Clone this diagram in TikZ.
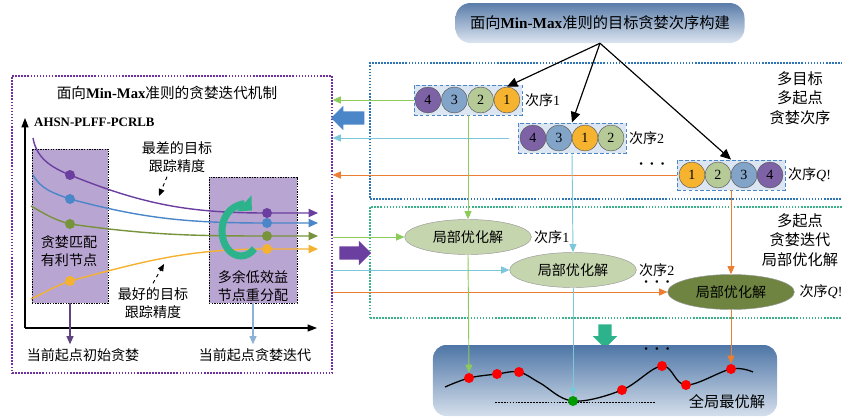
\documentclass[tikz,border=0pt]{standalone}
\usepackage{fontspec}
\setmainfont{Liberation Serif}
\newfontfamily\cjk{Noto Sans CJK SC}
\usetikzlibrary{arrows.meta,shapes.geometric,shapes.arrows,positioning}
\definecolor{mechpurple}{HTML}{7030A0}
\definecolor{ordblue}{HTML}{2E75B6}
\definecolor{itergreen}{HTML}{3CB08A}
\definecolor{cpurple}{HTML}{6B3FA0}
\definecolor{cblue}{HTML}{4A86C8}
\definecolor{cgreen}{HTML}{77933C}
\definecolor{corange}{HTML}{F5B130}
\definecolor{boxlilac}{HTML}{B9A5D2}
\definecolor{numfour}{HTML}{7E62A6}
\definecolor{numthree}{HTML}{82A4C8}
\definecolor{numtwo}{HTML}{B6CA98}
\definecolor{numone}{HTML}{F5B32F}
\definecolor{lgreen}{HTML}{8CCB5A}
\definecolor{lcyan}{HTML}{7CC8DA}
\definecolor{lorange}{HTML}{ED7D31}
\definecolor{ellfill}{HTML}{C5D5AE}
\definecolor{elldark}{HTML}{6E8440}
\definecolor{turncol}{HTML}{2DB38B}
\definecolor{rowfill}{HTML}{DCE6F2}
\definecolor{topdark}{HTML}{5A7DAA}
\definecolor{toplight}{HTML}{DCE5F0}
\definecolor{glodark}{HTML}{4E76A6}
\definecolor{glolight}{HTML}{D5DFEC}
\definecolor{darkdown}{HTML}{5D4480}
\definecolor{lightdown}{HTML}{8EB1D6}
\tikzset{frame/.style={
    rectangle,
    draw=#1,
    dash pattern=on 1.4pt off 1.2pt,
    line width=1pt,
    inner sep=0pt
  },
  txt/.style={font=\cjk\fontsize{12}{15.5}\selectfont, align=center},
  sidetxt/.style={font=\cjk\fontsize{13}{16.5}\selectfont, align=center},
  seq/.style={font=\fontsize{12}{14}\selectfont, inner sep=1pt},
  pbox/.style={rectangle, draw=black, fill=boxlilac, dash pattern=on 1.2pt off 1pt, line width=0.8pt},
  ordbox/.style={rectangle, draw=cblue, fill=rowfill, dash pattern=on 3pt off 2pt,
    line width=0.8pt, minimum width=3.24cm, minimum height=0.9cm},
  ord/.style={circle, draw=gray!70!black, minimum size=0.78cm, inner sep=0pt,
    font=\fontsize{12}{14}\selectfont},
  lopt/.style={ellipse, draw=gray!80, fill=ellfill, minimum width=3.8cm,
    minimum height=1.05cm, inner sep=0pt, font=\cjk\fontsize{12}{14}\selectfont},
  dot/.style={circle, fill=#1, inner sep=0pt, minimum size=0.3cm},
  bigarrow/.style={single arrow, draw=none, fill=#1, inner xsep=0pt, inner ysep=0.19cm,
    single arrow head extend=0.17cm, single arrow head indent=0pt},
  con/.style={line width=0.8pt, -{Triangle[length=7pt,width=6pt]}},
  curve/.style={line width=1.2pt, -{Triangle[length=8pt,width=7pt]}},
  dashdown/.style={dashed, line width=0.8pt, -{Triangle[length=6pt,width=5pt]}},
  dots/.style={font=\small, inner sep=0pt}
}
\begin{document}
\begin{tikzpicture}[x=0.03cm,y=-0.03cm]
  \useasboundingbox (0,0) rectangle (842,417);

  \node[frame=mechpurple, minimum width=9.6cm, minimum height=8.91cm] (mech) at (172,224.5) {};
  \node[frame=ordblue, minimum width=14.28cm, minimum height=4.08cm] (multi) at (608,131) {};
  \node[frame=itergreen, minimum width=14.28cm, minimum height=3.33cm] (iter) at (608,262.5) {};

  \node[rectangle, rounded corners=0.45cm, top color=topdark, bottom color=toplight,
    minimum width=8.67cm, minimum height=1.2cm, font=\cjk\fontsize{13}{15}\selectfont] (build) at (600,23)
    {面向{\rmfamily\bfseries Min-Max}准则的目标贪婪次序构建};

  % left panel
  \node[font=\cjk\fontsize{12.5}{15}\selectfont] (mtitle) at (167,93) {面向{\rmfamily\bfseries Min-Max}准则的贪婪迭代机制};
  \node[font=\rmfamily\bfseries\fontsize{11}{13}\selectfont, anchor=west, inner sep=0pt] (yname) at (34,122) {AHSN-PLFF-PCRLB};
  \coordinate (origin) at (25,328);
  \coordinate (ytip) at (25,118);
  \coordinate (xtip) at (317,328);
  \node[pbox, minimum width=2.28cm, minimum height=4.62cm] (match) at (70,226) {};
  \node[pbox, minimum width=2.64cm, minimum height=3.78cm] (redis) at (253,240) {};
  \node[txt] (matchtxt) at (69,251) {贪婪匹配\\有利节点};
  \node[txt] (redistxt) at (253,286) {多余低效益\\节点重分配};
  \draw[line width=1pt, -{Triangle[length=8pt,width=6pt]}] (origin) -- (ytip);
  \draw[line width=1pt, -{Triangle[length=8pt,width=6pt]}] (origin) -- (xtip);

  \draw[curve, cpurple] (33,138) to[out=-80,in=158] (70,175) to[out=-22,in=180] (267,213) -- (318,213);
  \draw[curve, cblue] (33,175) to[out=-60,in=160] (70,199) to[out=-15,in=180] (267,223) -- (318,223);
  \draw[curve, cgreen] (31,206) to[out=-30,in=165] (70,224) to[out=-8,in=180] (267,236) -- (318,236);
  \draw[curve, corange] (31,299) to[out=25,in=199] (70,281) to[out=15,in=180] (267,249) -- (318,249);
  \node[dot=cpurple] (pa) at (70,175) {};
  \node[dot=cblue] (ba) at (70,199) {};
  \node[dot=cgreen] (ga) at (70,224) {};
  \node[dot=corange] (oa) at (70,281) {};
  \node[dot=cpurple] (pb) at (267,213) {};
  \node[dot=cblue] (bb) at (267,223) {};
  \node[dot=cgreen] (gb) at (267,236) {};
  \node[dot=corange] (ob) at (267,249) {};
  \draw[line width=6pt, turncol, -{Triangle[length=9pt,width=18pt]}]
    (241,231) ++(45:19 and 25) arc[start angle=45, end angle=305, x radius=19, y radius=25];

  \node[txt] (worst) at (177,157) {最差的目标\\跟踪精度};
  \node[txt] (best) at (153,303) {最好的目标\\跟踪精度};
  \coordinate (wtip) at (159,196);
  \coordinate (btip) at (164,264);
  \draw[dashdown] ([xshift=-0.3cm]worst.south) -- (wtip);
  \draw[dashdown] (best.north) -- (btip);

  \node[txt] (init) at (83,355) {当前起点初始贪婪};
  \node[txt] (greedy) at (255,355) {当前起点贪婪迭代};
  \draw[con, darkdown, line width=1pt] (match.south) -- (match.south |- init.north);
  \draw[con, lightdown, line width=1pt] (redis.south) -- (redis.south |- greedy.north);

  % orders
  \node[ordbox] (r1) at (468,100) {};
  \node[ordbox] (r2) at (572,138) {};
  \node[ordbox] (rq) at (731,175) {};
  \foreach \n/\c [count=\i] in {4/numfour,3/numthree,2/numtwo,1/numone}
    \node[ord, fill=\c] (a\i) at ({401.7+26.3*\i},100) {\n};
  \foreach \n/\c [count=\i] in {4/numfour,3/numthree,1/numone,2/numtwo}
    \node[ord, fill=\c] (b\i) at ({507+26*\i},138) {\n};
  \foreach \n/\c [count=\i] in {1/numone,2/numtwo,3/numthree,4/numfour}
    \node[ord, fill=\c] (q\i) at ({666+26*\i},175) {\n};
  \node[seq, right=1pt of r1] (s1) {{\cjk 次序}1};
  \node[seq, right=1pt of r2] (s2) {{\cjk 次序}2};
  \node[seq, right=1pt of rq] (sq) {{\cjk 次序}\textit{Q}!};
  \node[dots] (rdots) at (652,165) {\textbullet\hspace{6pt}\textbullet\hspace{6pt}\textbullet};
  \node[sidetxt] (multitxt) at (800,98) {多目标\\多起点\\贪婪次序};

  \draw[con, line width=1pt, -{Triangle[length=9pt,width=8pt]}] (build.south) -- (a4.north);
  \draw[con, line width=1pt, -{Triangle[length=9pt,width=8pt]}] (build.south) -- (r2.north);
  \draw[con, line width=1pt, -{Triangle[length=9pt,width=8pt]}] (build.south) -- (rq.north);

  \node[bigarrow=cblue, minimum height=1cm, shape border rotate=180] (leftarr) at (351,118) {};
  \node[bigarrow=cpurple, minimum height=0.95cm, shape border rotate=0] (rightarr) at (352,253) {};

  % local optima
  \node[lopt] (e1) at (468,237) {局部优化解};
  \node[lopt] (e2) at (573,270) {局部优化解};
  \node[lopt, fill=elldark] (eq) at (731,292) {局部优化解};
  \node[seq, right=1pt of e1] (t1) {{\cjk 次序}1};
  \node[seq, right=1pt of e2] (t2) {{\cjk 次序}2};
  \node[seq, right=3pt of eq] (tq) {{\cjk 次序}\textit{Q}!};
  \node[dots] (edots) at (657,283) {\textbullet\hspace{6pt}\textbullet\hspace{6pt}\textbullet};
  \node[sidetxt] (itertxt) at (800,240) {多起点\\贪婪迭代\\局部优化解};

  \draw[con, lgreen] (r1.west) -- (r1.west -| mech.east);
  \draw[con, lcyan] ([xshift=-0.27cm]r2.west) -- (r2.west -| mech.east);
  \draw[con, lorange] (rq.west) -- (rq.west -| mech.east);
  \draw[con, lgreen] (mech.east |- e1.west) -- (e1.west);
  \draw[con, lcyan] (mech.east |- e2.west) -- (e2.west);
  \draw[con, lorange] (mech.east |- eq.west) -- (eq.west);
  \draw[con, lgreen] (r1.south) -- (e1.north);
  \draw[con, lcyan] (r2.south) -- (e2.north);
  \draw[con, lorange] (rq.south) -- (eq.north);

  % global optimum
  \node[bigarrow=turncol, minimum height=0.72cm, rotate=-90] (downarr) at (605,333) {};
  \node[rectangle, rounded corners=0.4cm, top color=glodark, bottom color=glolight,
    minimum width=10.32cm, minimum height=2.13cm] (glob) at (605,380.5) {};
  \node[dots] (gdots) at (657,350) {\textbullet\hspace{6pt}\textbullet\hspace{6pt}\textbullet};
  \draw[dash pattern=on 1.5pt off 1pt, line width=0.8pt] (495,402) -- (655,402);
  \draw[line width=1.1pt] plot[smooth, tension=0.6] coordinates {(445,387) (469,378) (497,374) (519,372)
    (540,383) (573,401) (622,390) (662,366) (686,385) (731,369) (753,372)};
  \node[dot=red] (d1) at (469,378) {};
  \node[dot=red] (d2) at (497,374) {};
  \node[dot=red] (d3) at (519,372) {};
  \node[dot=green!60!black] (gmin) at (573,401) {};
  \node[dot=red] (d4) at (622,390) {};
  \node[dot=red] (d5) at (662,366) {};
  \node[dot=red] (d6) at (686,385) {};
  \node[dot=red] (d7) at (731,369) {};
  \node[font=\cjk\fontsize{13}{15}\selectfont] (globtxt) at (727,402) {全局最优解};
  \draw[con, lgreen] (e1.south) -- (d1.north);
  \draw[con, lcyan] (e2.south) -- (gmin.north);
  \draw[con, lorange] (eq.south) -- (d7.north);
\end{tikzpicture}
\end{document}
